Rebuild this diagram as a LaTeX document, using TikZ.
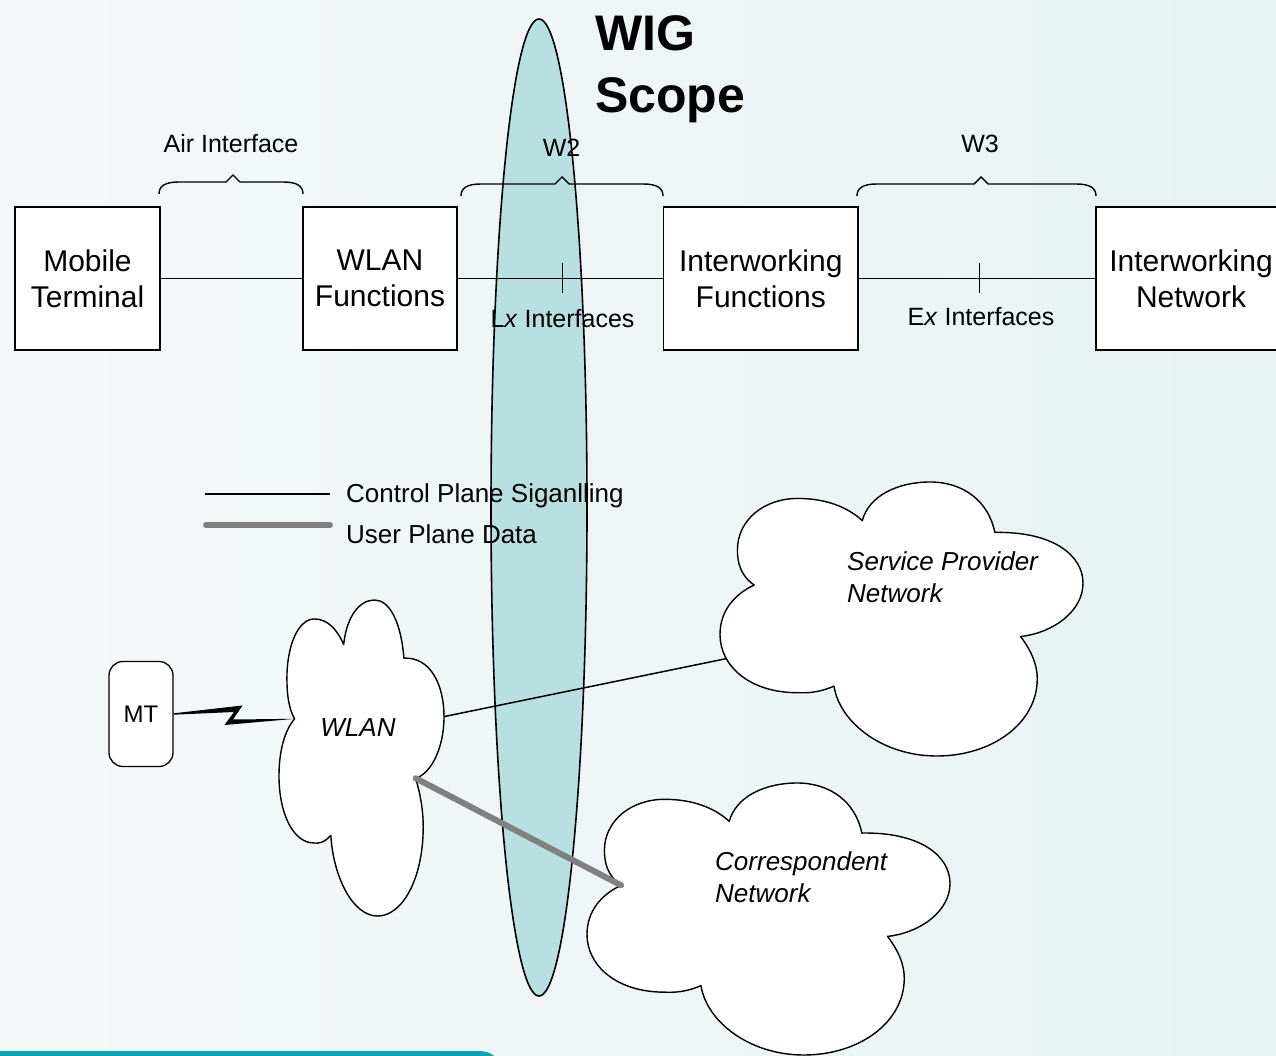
\documentclass[tikz,border=0pt]{standalone}
\usepackage{fontspec}
\setmainfont{Liberation Sans}
\usetikzlibrary{calc}

\definecolor{bgleft}{HTML}{F5F8F8}
\definecolor{bgright}{HTML}{E8F2F3}
\definecolor{scopefill}{HTML}{B8DFE2}
\definecolor{footerteal}{HTML}{0AA3AE}
\definecolor{userplane}{HTML}{808080}

% horizontal curly brace: left x, right x, peak x, y of the bar
\newcommand{\ifbrace}[4]{%
  \draw[braceline] (#1,#4+12) .. controls (#1,#4+4) and (#1+6,#4) .. (#1+20,#4)
    -- (#3-7,#4) -- (#3,#4-7) -- (#3+7,#4) -- (#2-20,#4)
    .. controls (#2-6,#4) and (#2,#4+4) .. (#2,#4+12);}

% five-lobed network cloud: name, left x, top y, width, height
\newcommand{\netcloud}[5]{%
  \begin{scope}[shift={(#2,#3)},xscale=#4/100,yscale=#5/100]
    \draw[cloudline] (9.4,37.6)
      .. controls (5.5,34) and (4.8,29) .. (4.8,24.8)
      .. controls (4.8,14) and (12,6) .. (21.4,6)
      .. controls (29,6) and (35,9) .. (39.2,14.1)
      .. controls (41,5) and (49,0) .. (57.9,0)
      .. controls (67,0) and (74,7) .. (75.7,18.4)
      .. controls (92,18) and (100,27) .. (100,36.9)
      .. controls (100,47) and (92,55) .. (82.8,56.4)
      .. controls (86,62) and (87.4,67) .. (87.4,71.8)
      .. controls (87.4,88) and (75,100) .. (59.7,100)
      .. controls (45,100) and (33,88) .. (31.4,74.5)
      .. controls (27,77) and (24,77) .. (21.4,76.9)
      .. controls (8,76.9) and (0,67) .. (0,55.7)
      .. controls (0,47) and (4,41) .. (9.4,37.6) -- cycle;
    \coordinate (#1-l) at (9.4,37.6);
    \coordinate (#1-r) at (100,36.9);
    \coordinate (#1-n4) at (82.8,56.4);
    \coordinate (#1-a) at (1.6,64.5);
  \end{scope}}

\begin{document}
\begin{tikzpicture}[x=1pt,y=-1pt,
  funcbox/.style={draw,line width=1.5pt,fill=white,align=center,inner sep=0pt,
    minimum height=143pt,font=\fontsize{30}{36}\selectfont},
  mtbox/.style={draw,line width=1.3pt,fill=white,rounded corners=14pt,
    minimum width=64pt,minimum height=105pt,inner sep=0pt,font=\fontsize{24}{28}\selectfont},
  ctrlline/.style={line width=1.5pt},
  userline/.style={line width=6pt,color=userplane,line cap=round},
  lbl/.style={font=\fontsize{25}{30}\selectfont,inner sep=0pt,anchor=base},
  legendtxt/.style={font=\fontsize{26}{31}\selectfont,inner sep=0pt,anchor=base west},
  cloudtxt/.style={font=\fontsize{26}{32}\selectfont\itshape,inner sep=0pt,align=left},
  cloudline/.style={draw,fill=white,line width=1.4pt,line join=round},
  braceline/.style={line width=1.4pt},
  scopeoval/.style={draw,fill=scopefill,line width=1.6pt},
  titletxt/.style={font=\fontsize{50}{62}\selectfont\bfseries,align=left,inner sep=0pt}
]
\useasboundingbox (0,0) rectangle (1276,1056);
\clip (0,0) rectangle (1276,1056);

% slide background and footer bar
\shade[left color=bgleft,right color=bgright] (0,0) rectangle (1276,1056);
\fill[footerteal] (0,1051) -- (478,1051) .. controls (487,1051) and (492,1054) .. (494,1056) -- (0,1056) -- cycle;

% scope of the WIG
\draw[scopeoval] (539,507.5) ellipse [x radius=48, y radius=488.5];
\node[titletxt,anchor=north west] (wigtitle) at (595,15) {WIG\\Scope};

% functional reference model
\node[funcbox,minimum width=145pt] (mt)    at (87.5,278.5)  {Mobile\\Terminal};
\node[funcbox,minimum width=154pt] (wlanf) at (380,278.5)   {WLAN\\Functions};
\node[funcbox,minimum width=194.5pt] (iwf) at (760.75,278.5) {Interworking\\Functions};
\node[funcbox,minimum width=190pt] (iwn)   at (1191,278.5)  {Interworking\\Network};

\draw[ctrlline] (mt.east) -- (wlanf.west);
\draw[ctrlline] (wlanf.east) -- (iwf.west);
\draw[ctrlline] (iwf.east) -- (iwn.west);

\coordinate (lx) at ($(wlanf.east)!0.51!(iwf.west)$);
\coordinate (ex) at ($(iwf.east)!0.51!(iwn.west)$);
\draw[ctrlline] ($(lx)+(0,-15)$) -- ($(lx)+(0,15)$);
\draw[ctrlline] ($(ex)+(0,-15)$) -- ($(ex)+(0,15)$);
\node[lbl] (lxlbl) at (562.5,327) {L\textit{x} Interfaces};
\node[lbl] (exlbl) at (981,326) {E\textit{x} Interfaces};

\ifbrace{159}{303}{233}{182}
\ifbrace{461}{663}{562}{184}
\ifbrace{857}{1096}{981}{184}
\node[lbl] (airlbl) at (231,153) {Air Interface};
\node[lbl] (w2lbl) at (561.5,157) {W2};
\node[lbl] (w3lbl) at (980,153) {W3};

% legend
\coordinate (lgca) at (205,494);
\coordinate (lgcb) at (330,494);
\coordinate (lgua) at (206,525);
\coordinate (lgub) at (330,525);
\draw[ctrlline] (lgca) -- (lgcb);
\draw[userline] (lgua) -- (lgub);
\node[legendtxt] (lgctrl) at (346,502) {Control Plane Siganlling};
\node[legendtxt] (lguser) at (346,543) {User Plane Data};

% deployment view
\netcloud{wlan}{279}{600}{165}{316}
\netcloud{sp}{720}{482}{363}{274}
\netcloud{corr}{587}{783}{363}{272}
\node[cloudtxt,anchor=base] (wlantxt) at (358,736) {WLAN};
\node[cloudtxt,anchor=north west] (sptxt) at (847,551) {Service Provider\\Network};
\node[cloudtxt,anchor=north west] (corrtxt) at (715,851) {Correspondent\\Network};

\node[mtbox] (mtdev) at (141,714) {MT};

% radio link
\coordinate (bolta) at (242.5,705.5);
\coordinate (boltb) at (233,719.5);
\coordinate (boltc) at (224.5,725);
\coordinate (boltd) at (234,712);
\fill ($(mtdev.east)+(0,-0.7)$) -- (bolta) -- (boltb) -- (wlan-l) -- (boltc) -- (boltd) -- ($(mtdev.east)+(0,0.7)$) -- cycle;

% signalling and data paths
\draw[ctrlline] (wlan-r) -- (sp-a);
\draw[userline] (wlan-n4) -- (corr-l);
\end{tikzpicture}
\end{document}
